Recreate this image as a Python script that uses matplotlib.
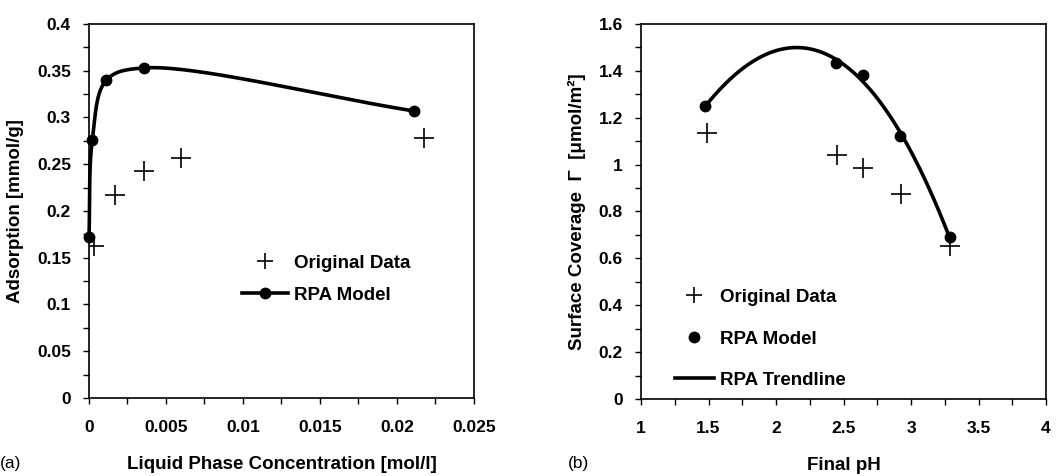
import numpy as np
import matplotlib
matplotlib.use("Agg")
import matplotlib.pyplot as plt
from matplotlib.lines import Line2D

plt.rcParams['font.family'] = ['Liberation Sans', 'DejaVu Sans']

# ---- Panel (a) data ----
a_model_x = [0.0, 0.000217, 0.00113, 0.00357, 0.02108]
a_model_y = [0.172, 0.276, 0.340, 0.353, 0.307]
a_orig_x = [0.000325, 0.00171, 0.00355, 0.00596, 0.02175]
a_orig_y = [0.163, 0.217, 0.243, 0.2565, 0.278]

# ---- Panel (b) data ----
b_model_x = [1.4765, 2.442, 2.642, 2.921, 3.286]
b_model_y = [1.250, 1.435, 1.383, 1.120, 0.691]
b_orig_x = [1.486, 2.449, 2.647, 2.926, 3.291]
b_orig_y = [1.137, 1.040, 0.986, 0.874, 0.651]

a_xticks = [0, 0.005, 0.01, 0.015, 0.02, 0.025]
a_xticklabels = ['0', '0.005', '0.01', '0.015', '0.02', '0.025']
a_yticks = [0, 0.05, 0.1, 0.15, 0.2, 0.25, 0.3, 0.35, 0.4]
a_yticklabels = ['0', '0.05', '0.1', '0.15', '0.2', '0.25', '0.3', '0.35', '0.4']
b_xticks = [1, 1.5, 2, 2.5, 3, 3.5, 4]
b_xticklabels = ['1', '1.5', '2', '2.5', '3', '3.5', '4']
b_yticks = [0, 0.2, 0.4, 0.6, 0.8, 1, 1.2, 1.4, 1.6]
b_yticklabels = ['0', '0.2', '0.4', '0.6', '0.8', '1', '1.2', '1.4', '1.6']


def smooth(xs, ys, xr, yr, n=60, alpha=0.5):
    # centripetal Catmull-Rom spline in normalized screen space
    px = (np.asarray(xs) - xr[0]) / (xr[1] - xr[0])
    py = (np.asarray(ys) * 1.0 - yr[0]) / (yr[1] - yr[0])
    P = np.column_stack([px, py])
    first = 2 * P[0] - P[1]
    last = 2 * P[-1] - P[-2]
    P = np.vstack([first, P, last])
    out = []
    for i in range(1, len(P) - 2):
        p0, p1, p2, p3 = P[i - 1], P[i], P[i + 1], P[i + 2]
        t0 = 0.0
        t1 = t0 + np.linalg.norm(p1 - p0) ** alpha
        t2 = t1 + np.linalg.norm(p2 - p1) ** alpha
        t3 = t2 + np.linalg.norm(p3 - p2) ** alpha
        t = np.linspace(t1, t2, n)[:, None]
        A1 = (t1 - t) / (t1 - t0) * p0 + (t - t0) / (t1 - t0) * p1
        A2 = (t2 - t) / (t2 - t1) * p1 + (t - t1) / (t2 - t1) * p2
        A3 = (t3 - t) / (t3 - t2) * p2 + (t - t2) / (t3 - t2) * p3
        B1 = (t2 - t) / (t2 - t0) * A1 + (t - t0) / (t2 - t0) * A2
        B2 = (t3 - t) / (t3 - t1) * A2 + (t - t1) / (t3 - t1) * A3
        C = (t2 - t) / (t2 - t1) * B1 + (t - t1) / (t2 - t1) * B2
        out.append(C)
    out = np.vstack(out)
    return out[:, 0] * (xr[1] - xr[0]) + xr[0], out[:, 1] * (yr[1] - yr[0]) + yr[0]


fig = plt.figure(figsize=(10.58, 4.76), dpi=100)
axA = fig.add_axes([0.0841, 0.1639, 0.3639, 0.7857])
axB = fig.add_axes([0.6059, 0.1618, 0.3828, 0.7878])

FS = 12.5
LFS = 13.5
bold = dict(fontsize=FS, fontweight='bold')
lbold = dict(fontsize=LFS, fontweight='bold')

for ax in (axA, axB):
    for s in ax.spines.values():
        s.set_linewidth(1.2)
        s.set_color('black')
    ax.tick_params(direction='out', length=4, width=1, labelsize=FS, which='both')
    ax.tick_params(axis='x', pad=12)
    ax.tick_params(axis='y', pad=9)

# Panel (a)
axA.set_xlim(0, 0.025)
axA.set_ylim(0, 0.4)
sx, sy = smooth(a_model_x, a_model_y, (0, 0.025), (0, 0.4))
axA.plot(sx, sy, color='black', lw=2.6, zorder=3, clip_on=False)
axA.plot(a_model_x, a_model_y, 'o', color='black', ms=7.5, zorder=4, clip_on=False)
axA.plot(a_orig_x, a_orig_y, '+', color='black', ms=14, mew=1.2, zorder=5)
axA.set_xticks(a_xticks)
axA.set_xticklabels(a_xticklabels, **bold)
axA.set_yticks(a_yticks)
axA.set_yticklabels(a_yticklabels, **bold)
axA.set_xticks(np.arange(0, 0.0251, 0.0025), minor=True)
axA.set_yticks(np.arange(0, 0.401, 0.025), minor=True)
axA.set_ylabel('Adsorption [mmol/g]', labelpad=9, **lbold)
axA.set_xlabel('Liquid Phase Concentration [mol/l]', labelpad=15, **lbold)

hA = [Line2D([], [], ls='none', marker='+', color='black', ms=11, mew=1.2),
      Line2D([], [], ls='-', lw=2.6, marker='o', color='black', ms=7.5)]
axA.legend(hA, ['Original Data', 'RPA Model'], frameon=False,
           loc='center left', bbox_to_anchor=(0.374, 0.318), borderpad=0,
           handlelength=2.45, handletextpad=0.3, labelspacing=0.8,
           prop=dict(family='Liberation Sans', weight='bold', size=LFS))

# Panel (b)
axB.set_xlim(1, 4)
axB.set_ylim(0, 1.6)
coef = np.polyfit(b_model_x, b_model_y, 3)
tx = np.linspace(min(b_model_x), max(b_model_x), 200)
axB.plot(tx, np.polyval(coef, tx), color='black', lw=2.6, zorder=3)
axB.plot(b_model_x, b_model_y, 'o', color='black', ms=7.5, zorder=4)
axB.plot(b_orig_x, b_orig_y, '+', color='black', ms=14, mew=1.2, zorder=5)
axB.set_xticks(b_xticks)
axB.set_xticklabels(b_xticklabels, **bold)
axB.set_yticks(b_yticks)
axB.set_yticklabels(b_yticklabels, **bold)
axB.set_xticks(np.arange(1, 4.01, 0.25), minor=True)
axB.set_yticks(np.arange(0, 1.601, 0.1), minor=True)
axB.set_ylabel('Surface Coverage  Γ  [μmol/m²]', labelpad=9, **lbold)
axB.set_xlabel('Final pH', labelpad=15, **lbold)

hB = [Line2D([], [], ls='none', marker='+', color='black', ms=11, mew=1.2),
      Line2D([], [], ls='none', marker='o', color='black', ms=7.5),
      Line2D([], [], ls='-', lw=2.6, color='black')]
axB.legend(hB, ['Original Data', 'RPA Model', 'RPA Trendline'], frameon=False,
           loc='center left', bbox_to_anchor=(0.06, 0.16), borderpad=0,
           handlelength=2.1, handletextpad=0.3, labelspacing=1.3,
           prop=dict(family='Liberation Sans', weight='bold', size=LFS))

fig.text(0.0, 0.027, '(a)', fontsize=FS, ha='left', va='center')
fig.text(0.537, 0.027, '(b)', fontsize=FS, ha='left', va='center')

fig.savefig('out.png', dpi=100)
